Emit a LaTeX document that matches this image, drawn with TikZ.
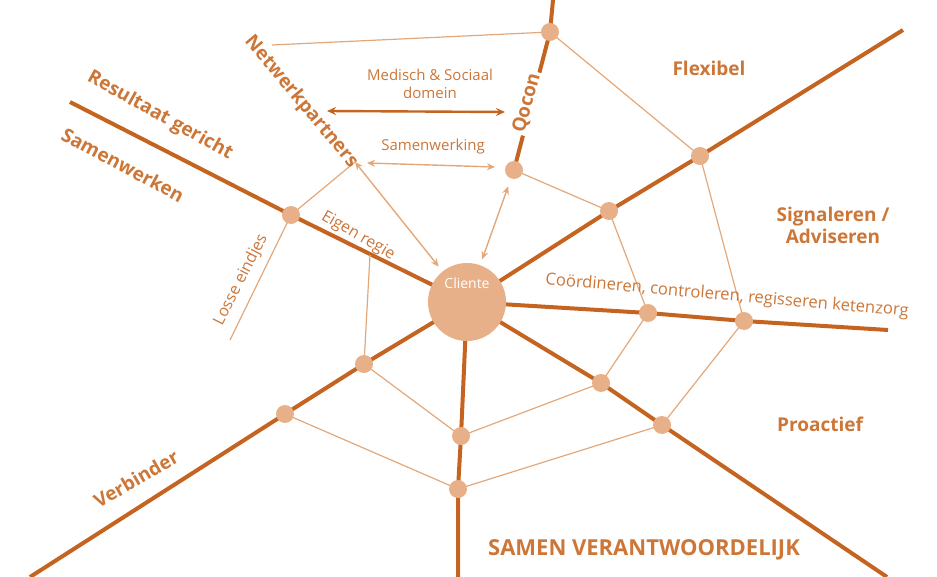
\documentclass[tikz,border=0pt]{standalone}
\usepackage{fontspec}
\setmainfont{Open Sans}
\usetikzlibrary{arrows.meta,backgrounds}

\definecolor{spokeOrange}{RGB}{196,100,32}
\definecolor{threadOrange}{RGB}{226,168,122}
\definecolor{knotOrange}{RGB}{232,176,136}
\definecolor{textOrange}{RGB}{204,118,56}

\begin{document}
\begin{tikzpicture}[x=0.5pt,y=-0.5pt,
  spoke/.style={draw=spokeOrange, line width=2pt},
  thread/.style={draw=threadOrange, line width=0.6pt},
  link/.style={<->, >={Stealth[length=4pt,width=3.5pt]}, draw=threadOrange, line width=0.7pt},
  mainlink/.style={<->, >={Stealth[length=4.5pt,width=4pt]}, draw=spokeOrange, line width=1.2pt},
  knot/.style={circle, fill=knotOrange, minimum size=9pt, inner sep=0pt},
  role/.style={font=\fontsize{9.5}{11}\selectfont\bfseries, text=textOrange, align=center},
  note/.style={font=\fontsize{7.5}{9}\selectfont, text=textOrange, align=center}]

\useasboundingbox (0,0) rectangle (937,577);

% Position the knots of the web
\node[knot, minimum size=39pt] (cliente) at (467,302) {};
\node[knot] (qoconA) at (514,170) {};
\node[knot] (qoconB) at (550,32) {};
\node[knot] (upRightA) at (609,211) {};
\node[knot] (upRightB) at (700,156) {};
\node[knot] (rightA) at (648,313) {};
\node[knot] (rightB) at (744,321) {};
\node[knot] (lowRightA) at (601,383) {};
\node[knot] (lowRightB) at (662,425) {};
\node[knot] (downA) at (461,436) {};
\node[knot] (downB) at (458,489) {};
\node[knot] (lowLeftA) at (364,364) {};
\node[knot] (lowLeftB) at (285,414) {};
\node[knot] (upLeftA) at (291,215) {};
\node[font=\fontsize{7}{8}\selectfont, text=white] (clienteText) at (467,283) {Cliente};

% Loose ends of the spokes and threads
\coordinate (qoconEnd) at (553,0);
\coordinate (upRightEnd) at (903,30);
\coordinate (rightEnd) at (888,330);
\coordinate (lowRightEnd) at (887,577);
\coordinate (downEnd) at (458,577);
\coordinate (lowLeftEnd) at (30,577);
\coordinate (upLeftEnd) at (70,102);
\coordinate (netwerkTop) at (272,45);
\coordinate (netwerkTip) at (355,162);
\coordinate (losseEnd) at (230,340);
\coordinate (eigenRegieFoot) at (370,255);
\coordinate (medischWest) at (327,111);
\coordinate (medischEast) at (505,112);
\coordinate (samenWest) at (367,163);
\coordinate (samenEast) at (495,167);

\begin{scope}[on background layer]
% Draw the spokes
\draw[spoke] (qoconEnd) -- (qoconB.center) -- (qoconA.center);
\draw[spoke] (cliente.center) -- (upRightA.center) -- (upRightB.center) -- (upRightEnd);
\draw[spoke] (cliente.center) -- (rightA.center) -- (rightB.center) -- (rightEnd);
\draw[spoke] (cliente.center) -- (lowRightA.center) -- (lowRightB.center) -- (lowRightEnd);
\draw[spoke] (cliente.center) -- (downA.center) -- (downB.center) -- (downEnd);
\draw[spoke] (cliente.center) -- (lowLeftA.center) -- (lowLeftB.center) -- (lowLeftEnd);
\draw[spoke] (cliente.center) -- (upLeftA.center) -- (upLeftEnd);

% Draw the threads between the spokes
\draw[thread] (netwerkTop) -- (qoconB.center) -- (upRightB.center) -- (rightB.center)
  -- (lowRightB.center) -- (downB.center) -- (lowLeftB.center);
\draw[thread] (qoconA.center) -- (upRightA.center) -- (rightA.center)
  -- (lowRightA.center) -- (downA.center) -- (lowLeftA.center) -- (eigenRegieFoot);
\draw[thread] (netwerkTip) -- (upLeftA.center) -- (losseEnd);
\end{scope}

% Draw the arrows between the partners
\draw[mainlink] (medischWest) -- (medischEast);
\draw[link] (samenWest) -- (samenEast);
\draw[link, shorten >=3pt] (netwerkTip) -- (cliente);
\draw[link, shorten <=4pt, shorten >=3pt] (qoconA) -- (cliente);

% Label the spokes and the roles
\node[role, fill=white, inner sep=1pt, rotate=75] (qoconText) at (527,103) {Qocon};
\node[role, rotate=-50] (netwerkText) at (301,102) {Netwerkpartners};
\node[role, rotate=-29] (resultaatText) at (160,116) {Resultaat gericht};
\node[role, rotate=-28] (samenwerkenText) at (123,165) {Samenwerken};
\node[role, rotate=30] (verbinderText) at (136,479) {Verbinder};
\node[role] (flexibelText) at (709,68) {Flexibel};
\node[role] (signalerenText) at (833,225) {Signaleren /\\Adviseren};
\node[role] (proactiefText) at (820,424) {Proactief};
\node[role, font=\fontsize{11}{13}\selectfont\bfseries] (samenText) at (644,550) {SAMEN VERANTWOORDELIJK};
\node[note] (medischText) at (430,84) {Medisch \& Sociaal\\domein};
\node[note] (samenwerkingText) at (433,147) {Samenwerking};
\node[note, font=\fontsize{8}{9}\selectfont, rotate=-30] (eigenRegieText) at (358,236) {Eigen regie};
\node[note, font=\fontsize{8}{9}\selectfont, rotate=63] (losseText) at (241,280) {Losse eindjes};
\node[note, font=\fontsize{8.3}{9}\selectfont, rotate=-5] (coordText) at (727,296) {Coördineren, controleren, regisseren ketenzorg};

\end{tikzpicture}
\end{document}
